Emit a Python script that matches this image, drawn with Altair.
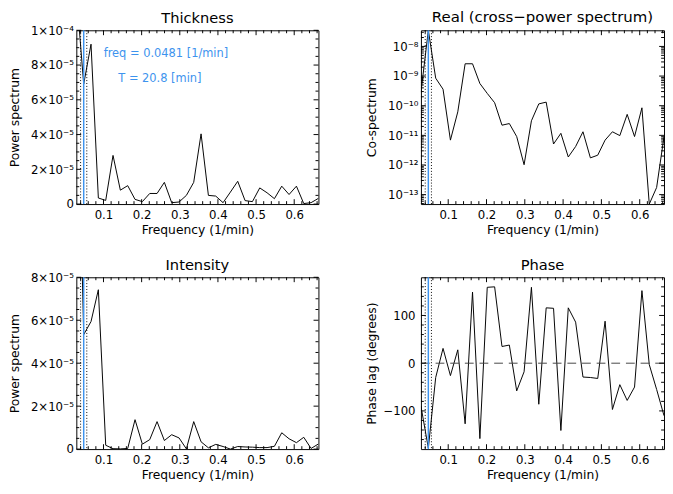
import altair as alt
import pandas as pd

# ---------------- data ----------------
freq = [0.0288, 0.0481, 0.0673, 0.0865, 0.1058, 0.1250, 0.1442, 0.1635, 0.1827,
        0.2019, 0.2212, 0.2404, 0.2596, 0.2788, 0.2981, 0.3173, 0.3365, 0.3558,
        0.3750, 0.3942, 0.4135, 0.4327, 0.4519, 0.4712, 0.4904, 0.5096, 0.5288,
        0.5481, 0.5673, 0.5865, 0.6058, 0.6250, 0.6442, 0.6635]

thickness = [1.22e-4, 6.9e-5, 9.2e-5, 3.5e-6, 2.1e-6, 2.8e-5, 8.0e-6, 1.06e-5, 2.7e-6,
             1.4e-6, 6.1e-6, 6.1e-6, 1.25e-5, 0.8e-6, 1.2e-6, 5.0e-6, 1.25e-5, 4.04e-5,
             5.0e-6, 4.6e-6, 0.8e-6, 6.9e-6, 1.31e-5, 2.0e-6, 1.4e-6, 9.3e-6, 6.5e-6,
             3.1e-6, 1.03e-5, 5.5e-6, 1.03e-5, 0.3e-6, 0.8e-6, 3.3e-6]

intensity = [2.0e-4, 5.33e-5, 5.94e-5, 7.42e-5, 1.8e-6, 2e-7, 1e-7, 3e-7, 1.37e-5,
             2.3e-6, 4.4e-6, 1.28e-5, 4.0e-6, 6.7e-6, 5.2e-6, 1e-7, 1.28e-5, 3.4e-6,
             6e-7, 2.2e-6, 1.2e-6, 0.0, 1.2e-6, 1.0e-6, 9e-7, 7e-7, 7e-7,
             1.3e-6, 7.6e-6, 4.8e-6, 3.0e-6, 5.5e-6, 3e-7, 2.4e-6]

cospec = [2.8e-10, 3.5e-8, 8.5e-10, 3.6e-10, 6.9e-12, 6.2e-11, 2.6e-9, 2.6e-9, 5.6e-10,
          2.6e-10, 1.26e-10, 2.2e-11, 2.5e-11, 9.1e-12, 1.02e-12, 3.1e-11, 1.15e-10, 1.32e-10,
          5.1e-12, 1.17e-11, 1.86e-12, 4.2e-12, 1.32e-11, 1.74e-12, 2.14e-12, 6.9e-12, 1.32e-11,
          9.8e-12, 5.1e-11, 9.1e-12, 8.5e-11, 4.8e-14, 1.74e-13, 9.1e-12]

phase = [-90, -178, -30, 31, -26, 28, -127, 149, -158, 159, 160, 35, 38, -58, -18, 159,
         -86, 116, 115, -141, 116, 86, -29, -30, -32, 88, -97, -45, -78, -50, 152, -3,
         -55, -110]

peak_freq = [0.0481]
err_freq = [0.0400, 0.0562]
annot_text = ["freq = 0.0481 [1/min]", "T = 20.8 [min]"]
annot_f = [0.1004, 0.1388]
annot_v = [8.67e-5, 7.26e-5]

x_major = [0.1, 0.2, 0.3, 0.4, 0.5, 0.6]
x_minor = [0.04, 0.06, 0.08, 0.12, 0.14, 0.16, 0.18, 0.22, 0.24, 0.26, 0.28,
           0.32, 0.34, 0.36, 0.38, 0.42, 0.44, 0.46, 0.48, 0.52, 0.54, 0.56,
           0.58, 0.62, 0.64, 0.66]

thick_ticks = [0, 2e-5, 4e-5, 6e-5, 8e-5, 1e-4]
thick_labels = ["0", "2×10⁻⁵", "4×10⁻⁵", "6×10⁻⁵", "8×10⁻⁵", "1×10⁻⁴"]
inten_ticks = [0, 2e-5, 4e-5, 6e-5, 8e-5]
inten_labels = ["0", "2×10⁻⁵", "4×10⁻⁵", "6×10⁻⁵", "8×10⁻⁵"]
lin_minor = [0.5e-5, 1e-5, 1.5e-5, 2.5e-5, 3e-5, 3.5e-5, 4.5e-5, 5e-5, 5.5e-5,
             6.5e-5, 7e-5, 7.5e-5, 8.5e-5, 9e-5, 9.5e-5]
log_ticks = [1e-13, 1e-12, 1e-11, 1e-10, 1e-9, 1e-8]
log_labels = ["10⁻¹³", "10⁻¹²", "10⁻¹¹", "10⁻¹⁰", "10⁻⁹", "10⁻⁸"]
log_minor = [m * 10.0 ** e for e in range(-14, -7) for m in range(2, 10)]
phase_ticks = [-100, 0, 100]
phase_labels = ["−100", "0", "100"]
phase_minor = [-160, -140, -120, -80, -60, -40, -20, 20, 40, 60, 80, 120, 140, 160]

# ---------------- styling ----------------
FONT = "DejaVu Sans"
BLUE = "#3d93ee"
W_L, W_R = 248, 249
H_T, H_B = 178, 176
MAJ, MIN = 5, 3
LBL = 12
TTL = 12.6

df = pd.DataFrame({"f": freq, "thickness": thickness, "intensity": intensity,
                   "cospec": cospec, "phase": phase})

xscale = alt.Scale(domain=[freq[0], freq[-1]], nice=False, zero=False)
x_axis = alt.Axis(values=x_major, format=".1f", title="Frequency (1/min)",
                  labelPadding=6, titlePadding=3, labelFont=FONT, labelFontSize=LBL,
                  titleFont=FONT, titleFontSize=TTL, titleFontWeight="normal",
                  labelOverlap=False)


def xf():
    return alt.X("f:Q", scale=xscale, axis=x_axis)


def label_expr(labels, index_expr):
    arr = "[" + ",".join("'" + s + "'" for s in labels) + "]"
    return arr + "[" + index_expr + "]"


def y_axis(values, labels, index_expr, title, extent, tpad, lpad):
    return alt.Axis(values=values, title=title, labelExpr=label_expr(labels, index_expr),
                    labelPadding=lpad, minExtent=extent, maxExtent=extent,
                    titlePadding=tpad, labelFont=FONT, labelFontSize=LBL,
                    titleFont=FONT, titleFontSize=TTL, titleFontWeight="normal",
                    labelOverlap=False)


def frame_ticks(yy, W, H, y_major, y_minor, ycol):
    layers = []
    for vals, L in ((x_major, MAJ), (x_minor, MIN)):
        d = pd.DataFrame({"f": vals})
        layers.append(alt.Chart(d).mark_rule(color="black", strokeWidth=1).encode(
            x=xf(), y=alt.value(H), y2=alt.value(H - L)))
        layers.append(alt.Chart(d).mark_rule(color="black", strokeWidth=1).encode(
            x=xf(), y=alt.value(0), y2=alt.value(L)))
    for vals, L in ((y_major, MAJ), (y_minor, MIN)):
        d = pd.DataFrame({ycol: vals})
        layers.append(alt.Chart(d).mark_rule(color="black", strokeWidth=1).encode(
            y=yy, x=alt.value(0), x2=alt.value(L)))
        layers.append(alt.Chart(d).mark_rule(color="black", strokeWidth=1).encode(
            y=yy, x=alt.value(W), x2=alt.value(W - L)))
    return layers


def panel(ycol, title, tsize, toffset, W, H, yscale, yaxis, y_major, y_minor, extra_fn=None):
    yy = alt.Y(f"{ycol}:Q", scale=yscale, axis=yaxis)
    line = alt.Chart(df).mark_line(color="black", strokeWidth=1, clip=True).encode(
        x=xf(), y=yy)
    extra = extra_fn(yy) if extra_fn else []
    dots = alt.Chart(pd.DataFrame({"f": err_freq})).mark_rule(
        color="black", strokeWidth=1, strokeDash=[1, 2]).encode(x=xf())
    blue = alt.Chart(pd.DataFrame({"f": peak_freq})).mark_rule(
        color=BLUE, strokeWidth=1.5).encode(x=xf())
    layers = [line, *extra, dots, blue, *frame_ticks(yy, W, H, y_major, y_minor, ycol)]
    return alt.layer(*layers).properties(
        width=W, height=H,
        title=alt.TitleParams(title, fontSize=tsize, offset=toffset, font=FONT,
                              frame="group", fontWeight="normal", anchor="middle",
                              color="black"))


# Thickness
th_scale = alt.Scale(domain=[0, 1e-4], nice=False, zero=False)
th_axis = y_axis(thick_ticks, thick_labels, "round(datum.value/2e-5)",
                 "Power spectrum", 49, 7, 3)


def thick_annot(yy):
    d = pd.DataFrame({"f": annot_f, "thickness": annot_v, "label": annot_text})
    return [alt.Chart(d).mark_text(align="left", baseline="middle", color=BLUE,
                                   fontSize=11.7, font=FONT).encode(
        x=xf(), y=yy, text="label:N")]


p1 = panel("thickness", "Thickness", 15, -2, W_L, H_T, th_scale, th_axis, thick_ticks,
           lin_minor, thick_annot)

# Real cross-power spectrum
cs_scale = alt.Scale(type="log", domain=[min(cospec), max(cospec)], nice=False)
cs_axis = y_axis(log_ticks, log_labels, "round(log(datum.value)/LN10)+13",
                 "Co-spectrum", 36, 8, 3)
p2 = panel("cospec", "Real (cross−power spectrum)", 15.3, 4, W_R, H_T, cs_scale, cs_axis,
           log_ticks, [v for v in log_minor if min(cospec) <= v <= max(cospec)])

# Intensity
in_scale = alt.Scale(domain=[0, 8e-5], nice=False, zero=False)
in_axis = y_axis(inten_ticks, inten_labels, "round(datum.value/2e-5)",
                 "Power spectrum", 49, 7, 3)
p3 = panel("intensity", "Intensity", 15, -2, W_L, H_B, in_scale, in_axis, inten_ticks,
           [v for v in lin_minor if v < 8e-5])

# Phase
ph_scale = alt.Scale(domain=[-180, 180], nice=False, zero=False)
ph_axis = y_axis(phase_ticks, phase_labels, "round(datum.value/100)+1",
                 "Phase lag (degrees)", 36, 8, 6)


def zero_line(yy):
    return [alt.Chart(pd.DataFrame({"phase": [0]})).mark_rule(
        color="#444444", strokeWidth=1, strokeDash=[9, 6]).encode(y=yy)]


p4 = panel("phase", "Phase", 15, 4, W_R, H_B, ph_scale, ph_axis, phase_ticks, phase_minor,
           zero_line)

chart = alt.concat(p1, p2, p3, p4, columns=2, spacing={"row": 75, "column": 105},
                   bounds="flush").properties(
    padding={"left": 0, "top": -4, "right": 0, "bottom": 0}
).configure_axis(
    labelFont=FONT, labelFontSize=LBL, titleFont=FONT, titleFontSize=TTL,
    titleFontWeight="normal", labelColor="black", titleColor="black",
    ticks=False, domain=False, grid=False, labelOverlap=False
).configure_view(stroke="black", strokeWidth=1).configure_title(font=FONT)

chart.save("out.html", embed_options={"renderer": "svg", "actions": False})
